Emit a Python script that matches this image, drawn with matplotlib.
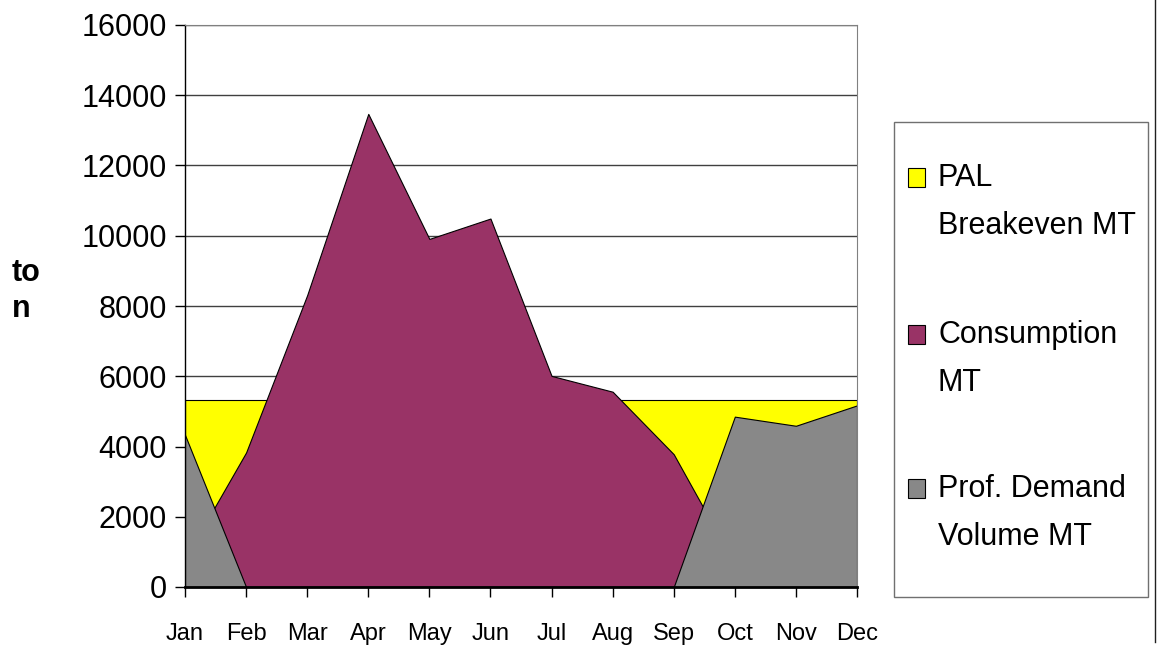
import matplotlib.pyplot as plt
import matplotlib.patches as mpatches
from matplotlib.lines import Line2D

plt.rcParams['font.family'] = ['Liberation Sans', 'DejaVu Sans']

# data
months = ['Jan', 'Feb', 'Mar', 'Apr', 'May', 'Jun', 'Jul', 'Aug', 'Sep', 'Oct', 'Nov', 'Dec']
breakeven = [5330, 5330, 5330, 5330, 5330, 5330, 5330, 5330, 5330, 5330, 5330, 5330]
consumption = [800, 3830, 8310, 13470, 9910, 10490, 6010, 5560, 3780, 650, 0, 0]
prof_demand = [4330, 0, 0, 0, 0, 0, 0, 0, 0, 4850, 4590, 5170]
yticks = [0, 2000, 4000, 6000, 8000, 10000, 12000, 14000, 16000]

series = [
    (['PAL', 'Breakeven MT'], breakeven, '#ffff00'),
    (['Consumption', 'MT'], consumption, '#993366'),
    (['Prof. Demand', 'Volume MT'], prof_demand, '#888888'),
]

W, H = 1157, 645
fig = plt.figure(figsize=(W / 100, H / 100), dpi=100)

def fx(px):
    return px / W

def fy(py):
    return 1 - py / H

ax = fig.add_axes([fx(185), fy(587), fx(857) - fx(185), fy(25) - fy(587)])
x = list(range(len(months)))

# back to front: yellow, purple, grey
for i, (lab, vals, col) in enumerate(series):
    ax.fill_between(x, 0, vals, facecolor=col, edgecolor='black', linewidth=0.8, zorder=2 + i)

ax.set_xlim(0, len(months) - 1)
ax.set_ylim(0, 16000)
ax.set_yticks(yticks)
ax.set_yticklabels([str(v) for v in yticks])
ax.set_xticks(x)
ax.set_xticklabels(months)
ax.yaxis.grid(True, color='#404040', linewidth=1)
ax.set_axisbelow(True)

ax.tick_params(axis='y', direction='out', length=7, width=1, pad=6, labelsize=22)
ax.tick_params(axis='x', direction='out', length=7, width=1, pad=19, labelsize=17)

ax.spines['bottom'].set_linewidth(2)
ax.spines['left'].set_linewidth(1)
ax.spines['top'].set_color('#808080')
ax.spines['right'].set_color('#808080')
for s in ['bottom', 'left', 'top', 'right']:
    ax.spines[s].set_zorder(10)

fig.text(fx(12), fy(291), 'to\nn', fontsize=22, fontweight='bold', ha='left', va='center',
         linespacing=1.25)

# legend box drawn by hand so the markers sit on the first line
fig.patches.append(mpatches.Rectangle((fx(894), fy(597)), fx(1148) - fx(894), fy(122) - fy(597),
                                      transform=fig.transFigure, facecolor='white',
                                      edgecolor='#707070', linewidth=1))
baselines = [186, 343, 497]
for (lab, vals, col), b in zip(series, baselines):
    fig.patches.append(mpatches.Rectangle((fx(908), fy(b + 1)), fx(925) - fx(908), fy(b - 18) - fy(b + 1),
                                          transform=fig.transFigure, facecolor=col,
                                          edgecolor='black', linewidth=0.8))
    for k, line in enumerate(lab):
        fig.text(fx(938), fy(b + 48 * k), line, fontsize=22, ha='left', va='baseline')

# chart area border on the right
fig.lines.append(Line2D([fx(1155), fx(1155)], [fy(642), 1], transform=fig.transFigure,
                        color='#202020', linewidth=1))

fig.savefig('out.png', dpi=100)
